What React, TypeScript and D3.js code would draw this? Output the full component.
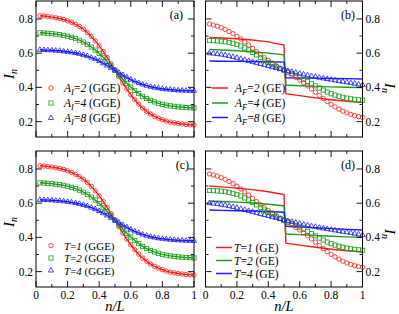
import React from 'react';
import * as d3 from 'd3';

// ---------- data ----------
const N_OVER_L = [0.025,0.05,0.075,0.1,0.125,0.15,0.175,0.2,0.225,0.25,0.275,0.3,0.325,0.35,0.375,0.4,0.425,0.45,0.475,0.5,0.525,0.55,0.575,0.6,0.625,0.65,0.675,0.7,0.725,0.75,0.775,0.8,0.825,0.85,0.875,0.9,0.925,0.95,0.975,1];

// panels (a),(c): markers and GGE lines
const GGE_RED = [0.819,0.817,0.814,0.811,0.807,0.803,0.797,0.789,0.780,0.769,0.756,0.740,0.721,0.698,0.672,0.643,0.610,0.575,0.538,0.500,0.462,0.425,0.390,0.357,0.328,0.302,0.279,0.260,0.244,0.231,0.220,0.211,0.203,0.197,0.193,0.189,0.186,0.183,0.181,0.180];
const GGE_GREEN = [0.719,0.718,0.716,0.714,0.711,0.708,0.704,0.699,0.693,0.685,0.676,0.665,0.652,0.636,0.618,0.598,0.576,0.552,0.526,0.500,0.474,0.448,0.424,0.402,0.382,0.364,0.348,0.335,0.324,0.315,0.307,0.301,0.296,0.292,0.289,0.286,0.284,0.282,0.281,0.280];
const GGE_BLUE = [0.620,0.619,0.618,0.617,0.615,0.614,0.611,0.608,0.605,0.601,0.596,0.590,0.583,0.574,0.565,0.554,0.541,0.528,0.514,0.500,0.486,0.472,0.459,0.446,0.435,0.426,0.417,0.410,0.404,0.399,0.395,0.392,0.389,0.387,0.385,0.383,0.382,0.381,0.380,0.380];

// panels (b),(d): markers
const EX_RED = [0.771,0.765,0.758,0.749,0.739,0.727,0.714,0.699,0.683,0.665,0.647,0.628,0.609,0.591,0.573,0.557,0.542,0.527,0.513,0.500,0.487,0.473,0.458,0.443,0.427,0.409,0.391,0.372,0.353,0.335,0.317,0.301,0.286,0.273,0.261,0.251,0.242,0.235,0.229,0.225];
const EX_GREEN = [0.674,0.673,0.672,0.670,0.667,0.663,0.658,0.651,0.642,0.631,0.619,0.605,0.590,0.575,0.560,0.546,0.533,0.521,0.510,0.500,0.491,0.481,0.470,0.459,0.447,0.435,0.422,0.409,0.396,0.384,0.373,0.363,0.355,0.348,0.342,0.337,0.333,0.330,0.327,0.325];
const EX_BLUE = [0.600,0.598,0.595,0.592,0.588,0.583,0.578,0.573,0.567,0.561,0.555,0.549,0.543,0.537,0.531,0.525,0.519,0.513,0.507,0.501,0.496,0.491,0.486,0.481,0.476,0.471,0.466,0.462,0.457,0.453,0.449,0.445,0.441,0.437,0.433,0.430,0.426,0.422,0.418,0.414];

// GE step lines
const GE_X = [0.025,0.1,0.2,0.3,0.4,0.5,0.512,0.6,0.7,0.8,0.9,1];
const GE_B_RED = [0.692,0.689,0.684,0.677,0.666,0.648,0.363,0.352,0.339,0.328,0.319,0.312];
const GE_B_GREEN = [0.622,0.619,0.614,0.608,0.600,0.590,0.414,0.410,0.406,0.403,0.401,0.399];
const GE_B_BLUE = [0.554,0.553,0.552,0.551,0.550,0.548,0.456,0.455,0.454,0.452,0.451,0.449];
const GE_D_RED = [0.700,0.695,0.688,0.679,0.667,0.650,0.366,0.355,0.342,0.331,0.322,0.316];
const GE_D_GREEN = [0.613,0.610,0.606,0.601,0.594,0.585,0.420,0.416,0.411,0.407,0.403,0.400];
const GE_D_BLUE = [0.560,0.558,0.556,0.554,0.551,0.547,0.465,0.461,0.456,0.451,0.447,0.443];

const X_MAJOR = [0, 0.2, 0.4, 0.6, 0.8, 1];
const X_MINOR = [0.1, 0.3, 0.5, 0.7, 0.9];
const X_LABELS = ['0', '0.2', '0.4', '0.6', '0.8', '1'];
const Y_MAJOR = [0.2, 0.4, 0.6, 0.8];
const Y_MINOR = [0.3, 0.5, 0.7];
const Y_LABELS = ['0.2', '0.4', '0.6', '0.8'];

const LEGEND_A = ['2', '4', '8'];
const LEGEND_T = ['1', '2', '4'];

// ---------- style ----------
const RED = '#ff1a1a';
const GREEN = '#1c9e1c';
const BLUE = '#1a1aff';
const COLORS = [RED, GREEN, BLUE];
const SHAPES = ['circle', 'square', 'triangle'];
const FONT = 'Liberation Serif, serif';

type PanelCfg = {
  id: string; left: number; right: number; top: number; bottom: number;
  side: 'left' | 'right'; xLabels: boolean; markers: number[][]; lines: number[][];
  lineX: number[]; lineCurve: 'smooth' | 'linear';
  legendKind: 'marker' | 'line'; legendMain: string; legendSub: string | null; legendNums: string[];
  legendTag: string; legendRows: number[]; legendSymX: number; legendTextX: number; legendFs: number;
  labelX: number; ylabY: number;
};

const PANELS: PanelCfg[] = [
  { id: 'a', left: 36, right: 194, top: 1, bottom: 137, side: 'left', xLabels: false,
    markers: [GGE_RED, GGE_GREEN, GGE_BLUE], lines: [GGE_RED, GGE_GREEN, GGE_BLUE], lineX: N_OVER_L, lineCurve: 'smooth',
    legendKind: 'marker', legendMain: 'A', legendSub: 'I', legendNums: LEGEND_A, legendTag: 'GGE',
    legendRows: [88, 103, 118], legendSymX: 51, legendTextX: 64, legendFs: 11.5, labelX: 183, ylabY: 74 },
  { id: 'b', left: 205.5, right: 362.5, top: 1, bottom: 137, side: 'right', xLabels: false,
    markers: [EX_RED, EX_GREEN, EX_BLUE], lines: [GE_B_RED, GE_B_GREEN, GE_B_BLUE], lineX: GE_X, lineCurve: 'linear',
    legendKind: 'line', legendMain: 'A', legendSub: 'F', legendNums: LEGEND_A, legendTag: 'GE',
    legendRows: [88, 103, 117.5], legendSymX: 212, legendTextX: 235, legendFs: 11.5, labelX: 355, ylabY: 88 },
  { id: 'c', left: 36, right: 194, top: 151, bottom: 287, side: 'left', xLabels: true,
    markers: [GGE_RED, GGE_GREEN, GGE_BLUE], lines: [GGE_RED, GGE_GREEN, GGE_BLUE], lineX: N_OVER_L, lineCurve: 'smooth',
    legendKind: 'marker', legendMain: 'T', legendSub: null, legendNums: LEGEND_T, legendTag: 'GGE',
    legendRows: [245.5, 258, 270.5], legendSymX: 51, legendTextX: 64, legendFs: 11, labelX: 189, ylabY: 222 },
  { id: 'd', left: 205.5, right: 362.5, top: 151, bottom: 287, side: 'right', xLabels: true,
    markers: [EX_RED, EX_GREEN, EX_BLUE], lines: [GE_D_RED, GE_D_GREEN, GE_D_BLUE], lineX: GE_X, lineCurve: 'linear',
    legendKind: 'line', legendMain: 'T', legendSub: null, legendNums: LEGEND_T, legendTag: 'GE',
    legendRows: [247.5, 260.5, 273.5], legendSymX: 216, legendTextX: 234, legendFs: 11.5, labelX: 355, ylabY: 234 },
];

function Marker({ shape, x, y, color }: { shape: string; x: number; y: number; color: string }) {
  if (shape === 'circle') return <circle cx={x} cy={y} r={2.2} fill="none" stroke={color} strokeWidth={0.8} />;
  if (shape === 'square') return <rect x={x - 2.1} y={y - 2.1} width={4.2} height={4.2} fill="none" stroke={color} strokeWidth={0.8} />;
  const p = d3.symbol().type(d3.symbolTriangle).size(12)();
  return <path d={p as string} transform={`translate(${x},${y})`} fill="none" stroke={color} strokeWidth={0.8} />;
}

function Panel({ cfg }: { cfg: PanelCfg }) {
  const x = d3.scaleLinear().domain([0, 1]).range([cfg.left, cfg.right]);
  const y = d3.scaleLinear().domain([0.11, 0.905]).range([cfg.bottom, cfg.top]);
  const line = d3.line<number>()
    .x((_, i) => x(cfg.lineX[i]))
    .y((d) => y(d))
    .curve(cfg.lineCurve === 'smooth' ? d3.curveMonotoneX : d3.curveLinear);
  const MAJ = 6, MIN = 3;
  return (
    <g>
      {cfg.lines.map((arr, k) => (
        <path key={'l' + k} d={line(arr) as string} fill="none" stroke={COLORS[k]} strokeWidth={1.4} />
      ))}
      {cfg.markers.map((arr, k) => arr.map((v, i) => (
        <Marker key={'m' + k + '_' + i} shape={SHAPES[k]} x={x(N_OVER_L[i])} y={y(v)} color={COLORS[k]} />
      )))}
      <rect x={cfg.left} y={cfg.top} width={cfg.right - cfg.left} height={cfg.bottom - cfg.top} fill="none" stroke="#000" strokeWidth={1} />
      {X_MAJOR.map((t) => (
        <g key={'xM' + t}>
          <line x1={x(t)} x2={x(t)} y1={cfg.bottom} y2={cfg.bottom - MAJ} stroke="#000" strokeWidth={0.9} />
          <line x1={x(t)} x2={x(t)} y1={cfg.top} y2={cfg.top + MAJ} stroke="#000" strokeWidth={0.9} />
        </g>
      ))}
      {X_MINOR.map((t) => (
        <g key={'xm' + t}>
          <line x1={x(t)} x2={x(t)} y1={cfg.bottom} y2={cfg.bottom - MIN} stroke="#000" strokeWidth={0.9} />
          <line x1={x(t)} x2={x(t)} y1={cfg.top} y2={cfg.top + MIN} stroke="#000" strokeWidth={0.9} />
        </g>
      ))}
      {Y_MAJOR.map((t) => (
        <g key={'yM' + t}>
          <line x1={cfg.left} x2={cfg.left + MAJ} y1={y(t)} y2={y(t)} stroke="#000" strokeWidth={0.9} />
          <line x1={cfg.right} x2={cfg.right - MAJ} y1={y(t)} y2={y(t)} stroke="#000" strokeWidth={0.9} />
        </g>
      ))}
      {Y_MINOR.map((t) => (
        <g key={'ym' + t}>
          <line x1={cfg.left} x2={cfg.left + MIN} y1={y(t)} y2={y(t)} stroke="#000" strokeWidth={0.9} />
          <line x1={cfg.right} x2={cfg.right - MIN} y1={y(t)} y2={y(t)} stroke="#000" strokeWidth={0.9} />
        </g>
      ))}
      {Y_MAJOR.map((t, i) => (
        <text key={'yl' + t} x={cfg.side === 'left' ? cfg.left - 3 : cfg.right + 3} y={y(t) + 4}
          textAnchor={cfg.side === 'left' ? 'end' : 'start'} fontSize={11.5} fontFamily={FONT}>{Y_LABELS[i]}</text>
      ))}
      {cfg.xLabels && X_MAJOR.map((t, i) => (
        <text key={'xl' + t} x={x(t)} y={cfg.bottom + 12} textAnchor="middle" fontSize={11.5} fontFamily={FONT}>{X_LABELS[i]}</text>
      ))}
      {cfg.xLabels && (
        <text x={(cfg.left + cfg.right) / 2} y={311} textAnchor="middle" fontSize={14.5} fontStyle="italic" fontFamily={FONT}>n/L</text>
      )}
      <text transform={cfg.side === 'left' ? `translate(14,${cfg.ylabY}) rotate(-90)` : `translate(385,${cfg.ylabY}) rotate(90)`}
        textAnchor="middle" fontSize={15} fontStyle="italic" fontFamily={FONT}>
        I<tspan fontSize={10} dy={3}>n</tspan>
      </text>
      <text x={cfg.labelX} y={cfg.top + 18} textAnchor="end" fontSize={12} fontFamily={FONT}>({cfg.id})</text>
      {cfg.legendRows.map((ry, k) => (
        <g key={'lg' + k}>
          {cfg.legendKind === 'marker'
            ? <Marker shape={SHAPES[k]} x={cfg.legendSymX} y={ry} color={COLORS[k]} />
            : <line x1={cfg.legendSymX} x2={cfg.legendSymX + 16} y1={ry} y2={ry} stroke={COLORS[k]} strokeWidth={1.5} />}
          <text x={cfg.legendTextX} y={ry + 4} fontSize={cfg.legendFs} fontFamily={FONT}>
            <tspan fontStyle="italic">{cfg.legendMain}</tspan>
            {cfg.legendSub && <tspan fontStyle="italic" fontSize={8.5} dy={3}>{cfg.legendSub}</tspan>}
            <tspan dy={cfg.legendSub ? -3 : 0}>=</tspan>
            <tspan fontStyle="italic">{cfg.legendNums[k]}</tspan>
            <tspan>{'\u00A0(' + cfg.legendTag + ')'}</tspan>
          </text>
        </g>
      ))}
    </g>
  );
}

export default function App() {
  return (
    <svg width={399} height={314} viewBox="0 0 399 314"
      style={{ position: 'absolute', left: 0, top: 0, background: '#fff' }}>
      <rect x={0} y={0} width={399} height={314} fill="#fff" />
      {PANELS.map((p) => <Panel key={p.id} cfg={p} />)}
    </svg>
  );
}
